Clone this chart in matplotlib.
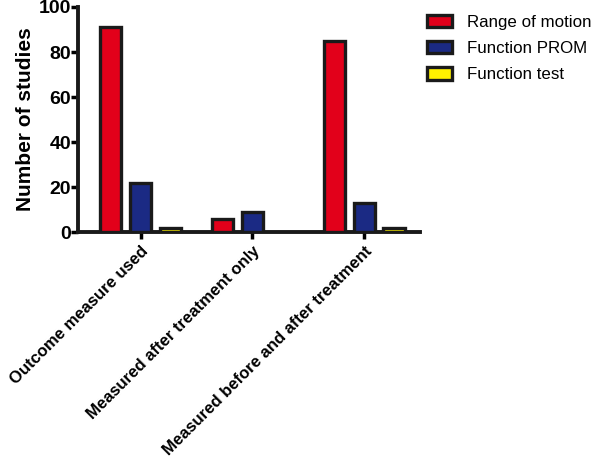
import numpy as np
import matplotlib
matplotlib.use('Agg')
import matplotlib.pyplot as plt

plt.rcParams['font.family'] = ['Liberation Sans', 'DejaVu Sans']

categories = ['Outcome measure used', 'Measured after treatment only',
              'Measured before and after treatment']
series = ['Range of motion', 'Function PROM', 'Function test']
rom = [91, 6, 85]
prom = [22, 9, 13]
ftest = [2, 0, 2]
colors = ['#E2001A', '#1B2A84', '#FFF200']

fig = plt.figure(figsize=(6.0, 4.66), dpi=100)
ax = fig.add_axes([0.13, 0.502, 0.57, 0.483])

x = np.arange(len(categories))
step = 0.268
width = 0.19
for i, (vals, name, c) in enumerate(zip([rom, prom, ftest], series, colors)):
    xs = x + (i - 1) * step
    keep = [v > 0 for v in vals]
    ax.bar(xs[keep], np.array(vals)[keep], width, color=c, edgecolor='#1a1a1a',
           linewidth=2.4, label=name, zorder=3)

ax.set_xlim(-0.56, 2.5)
ax.set_ylim(0, 100)
ax.set_yticks([0, 20, 40, 60, 80, 100])
ax.set_xticks(x)
ax.set_xticklabels(categories, rotation=45, ha='right', rotation_mode='anchor',
                   fontsize=12, fontweight='bold')
for lab in ax.get_yticklabels():
    lab.set_fontweight('bold')
ax.tick_params(axis='y', labelsize=14, width=2.5, length=5, direction='out', pad=0)
ax.tick_params(axis='x', width=2.5, length=5, direction='out')
ax.set_ylabel('Number of studies', fontsize=15, fontweight='bold', labelpad=3)

for s in ['top', 'right']:
    ax.spines[s].set_visible(False)
for s in ['left', 'bottom']:
    ax.spines[s].set_linewidth(2.8)
    ax.spines[s].set_color('#1a1a1a')

leg = ax.legend(loc='upper left', bbox_to_anchor=(1.0, 0.995), borderaxespad=0,
                frameon=False, fontsize=12.2, handlelength=1.5, handleheight=0.75,
                handletextpad=0.9, labelspacing=0.65)

fig.savefig('out.png', dpi=100)
